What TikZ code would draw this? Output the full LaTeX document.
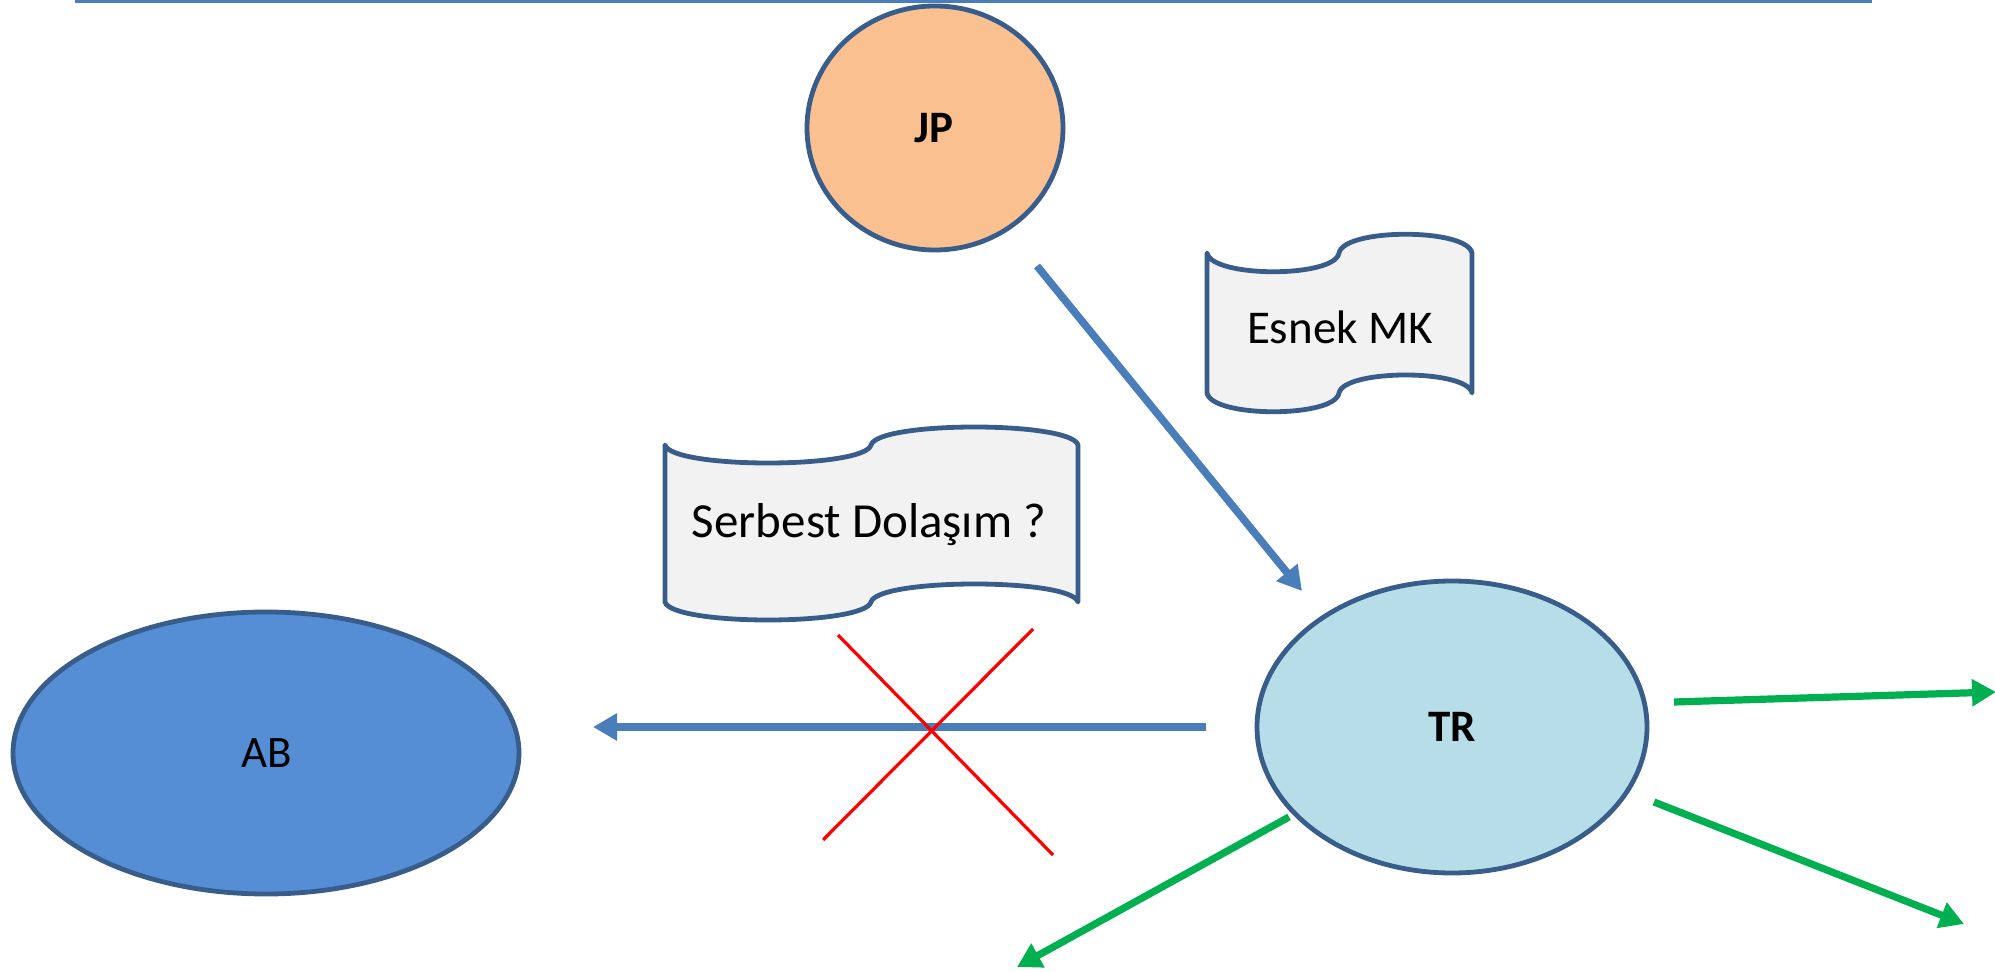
\documentclass[tikz,border=0pt]{standalone}
\usepackage{fontspec}
\setmainfont{Carlito}
\usetikzlibrary{arrows.meta,shapes.geometric}
\definecolor{edgeblue}{HTML}{385D8A}
\definecolor{arrowblue}{HTML}{4A7EBB}
\definecolor{jporange}{HTML}{FAC090}
\definecolor{abblue}{HTML}{558ED5}
\definecolor{trblue}{HTML}{B7DDE8}
\definecolor{tapefill}{HTML}{F2F2F2}
\definecolor{greenarrow}{HTML}{00B050}
\tikzset{
  country/.style={ellipse, draw=edgeblue, line width=2.4pt, inner sep=0pt},
  tapeline/.style={draw=edgeblue, fill=tapefill, line width=2.4pt, line join=round},
  bluearrow/.style={draw=arrowblue, line width=3.8pt, -{Triangle[length=12pt,width=13pt]}},
  greenarr/.style={draw=greenarrow, line width=3.6pt, -{Triangle[length=12pt,width=13pt]}},
  crossline/.style={draw=red, line width=1.6pt},
  lbl/.style={font=\fontsize{23.5}{28}\selectfont},
  blbl/.style={font=\fontsize{22.5}{27}\selectfont\bfseries}
}
\begin{document}
\begin{tikzpicture}[x=0.5pt,y=-0.5pt]
\useasboundingbox (0,0) rectangle (1995,972);
% top frame line
\draw[draw=arrowblue, line width=1.6pt] (75,1) -- (1872,1);
% ellipses
\node[country, fill=jporange, minimum width=128pt, minimum height=122pt] (jp) at (935,128) {};
\node[blbl] (jpl) at (934,128) {JP};
\node[country, fill=abblue, minimum width=253pt, minimum height=141pt] (ab) at (266,753) {};
\node[lbl, font=\fontsize{22.5}{27}\selectfont] (abl) at (267,753) {AB};
\node[country, fill=trblue, minimum width=195pt, minimum height=146pt] (tr) at (1452,727) {};
\node[blbl] (trl) at (1452,727) {TR};
% tapes
\path[tapeline] (1207,253)
  .. controls (1212,278) and (1335,278) .. (1339,253)
  .. controls (1344,228) and (1467,228) .. (1472,253)
  -- (1472,393)
  .. controls (1467,369) and (1344,369) .. (1339,393)
  .. controls (1335,418) and (1212,418) .. (1207,393) -- cycle;
\node[lbl] (esnek) at (1340,327) {Esnek MK};
\path[tapeline] (665,445)
  .. controls (672,469) and (864,469) .. (871,445)
  .. controls (878,421) and (1071,421) .. (1078,445)
  -- (1078,602)
  .. controls (1071,578) and (878,578) .. (871,602)
  .. controls (864,626) and (672,626) .. (665,602) -- cycle;
\node[lbl, font=\fontsize{24.5}{29}\selectfont] (serbest) at (869,525) {Serbest Dolaşım ?};
% arrow endpoints
\coordinate (jps) at (1037,266);
\coordinate (trt) at (1302,591);
\coordinate (trs) at (1206,727);
\coordinate (abt) at (593,727);
\coordinate (g1s) at (1674,702);
\coordinate (g1t) at (1996,692);
\coordinate (g2s) at (1654,802);
\coordinate (g2t) at (1964,924);
\coordinate (g3s) at (1289,817);
\coordinate (g3t) at (1017,967);
\coordinate (x1a) at (838,635);
\coordinate (x1b) at (1053,855);
\coordinate (x2a) at (1033,629);
\coordinate (x2b) at (823,840);
% arrows
\draw[bluearrow] (jps) -- (trt);
\draw[bluearrow] (trs) -- (abt);
\draw[greenarr] (g1s) -- (g1t);
\draw[greenarr] (g2s) -- (g2t);
\draw[greenarr] (g3s) -- (g3t);
% red cross
\draw[crossline] (x1a) -- (x1b);
\draw[crossline] (x2a) -- (x2b);
\end{tikzpicture}
\end{document}
